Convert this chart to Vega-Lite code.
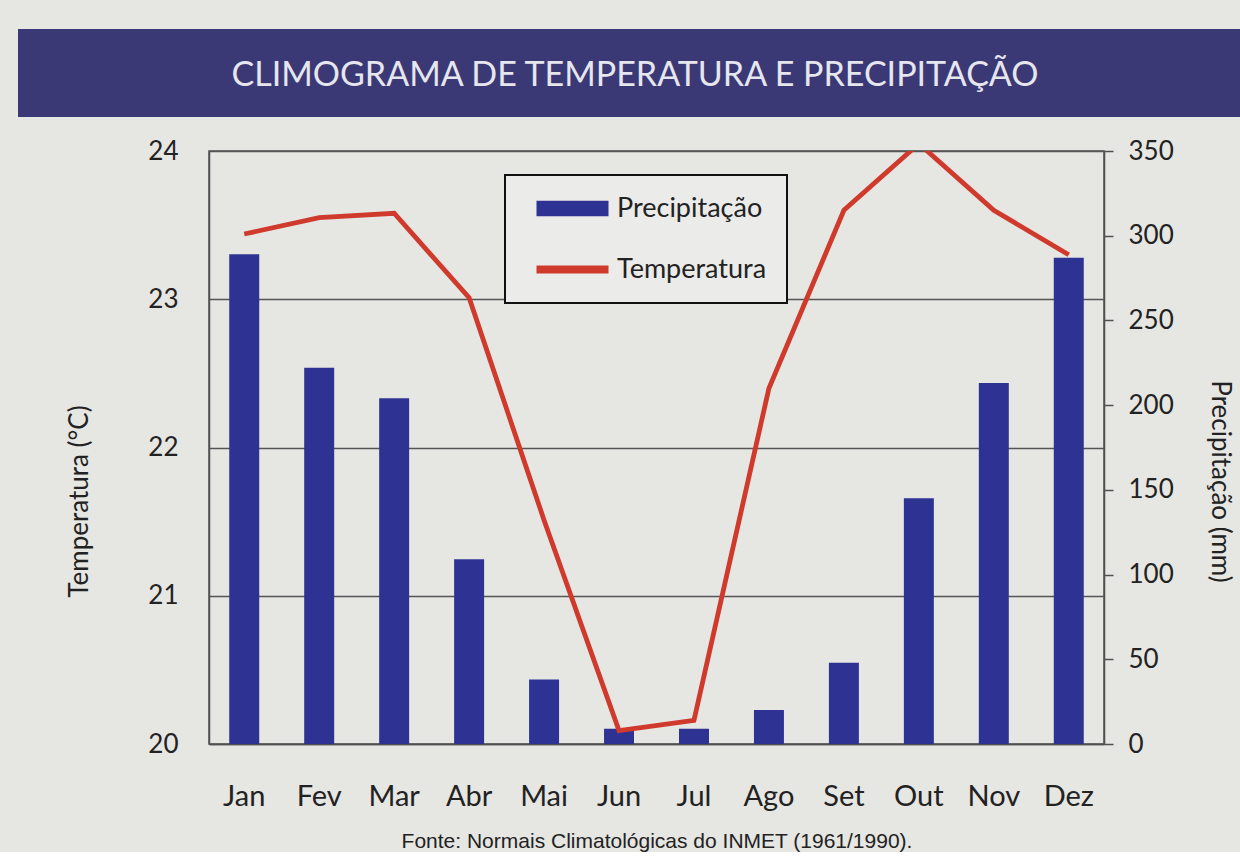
{
  "$schema": "https://vega.github.io/schema/vega-lite/v6.json",
  "background": "#e6e6e3",
  "padding": {"left": 18, "top": 29, "right": 0, "bottom": 0},
  "spacing": 20,
  "center": true,
  "config": {"font": "Lato", "view": {"stroke": null}},
  "datasets": {
    "titulo": [{"t": "CLIMOGRAMA DE TEMPERATURA E PRECIPITAÇÃO"}],
    "clima": [
      {"mes": "Jan", "precip": 289, "temp": 23.44},
      {"mes": "Fev", "precip": 222, "temp": 23.55},
      {"mes": "Mar", "precip": 204, "temp": 23.58},
      {"mes": "Abr", "precip": 109, "temp": 23.01},
      {"mes": "Mai", "precip": 38, "temp": 21.51},
      {"mes": "Jun", "precip": 9, "temp": 20.09},
      {"mes": "Jul", "precip": 9, "temp": 20.16},
      {"mes": "Ago", "precip": 20, "temp": 22.4},
      {"mes": "Set", "precip": 48, "temp": 23.6},
      {"mes": "Out", "precip": 145, "temp": 24.05},
      {"mes": "Nov", "precip": 213, "temp": 23.6},
      {"mes": "Dez", "precip": 287, "temp": 23.3}
    ]
  },
  "vconcat": [
    {
      "width": 1406,
      "height": 88,
      "view": {"fill": "#3b3876", "stroke": null},
      "data": {"name": "titulo"},
      "mark": {"type": "text", "font": "Lato", "fontSize": 34, "color": "#e6e6ee", "align": "center", "baseline": "middle", "dx": -86, "dy": 3},
      "encoding": {"text": {"field": "t", "type": "nominal"}}
    },
    {
      "width": 895,
      "height": 593,
      "view": {"stroke": "#505050", "strokeWidth": 1.5},
      "data": {"name": "clima"},
      "encoding": {
        "x": {
          "field": "mes",
          "type": "ordinal",
          "sort": null,
          "scale": {"paddingInner": 0.6, "paddingOuter": 0.27},
          "axis": {
            "title": "Fonte: Normais Climatológicas do INMET (1961/1990).",
            "titleFont": "Liberation Sans",
            "titleFontSize": 21,
            "titleFontWeight": "normal",
            "titleColor": "#222222",
            "titlePadding": 19,
            "labelFont": "Lato",
            "labelFontSize": 29,
            "labelColor": "#222222",
            "labelAngle": 0,
            "labelPadding": 38,
            "ticks": false,
            "domainColor": "#505050",
            "domainWidth": 1.5,
            "grid": false
          }
        }
      },
      "layer": [
        {
          "mark": {"type": "bar"},
          "encoding": {
            "y": {
              "field": "precip",
              "type": "quantitative",
              "scale": {"domain": [0, 350]},
              "axis": {
                "orient": "right",
                "title": "Precipitação (mm)",
                "titleFont": "Lato",
                "titleFontSize": 26,
                "titleFontWeight": "normal",
                "titleColor": "#222222",
                "titlePadding": 33,
                "titleY": 330,
                "values": [0, 50, 100, 150, 200, 250, 300, 350],
                "labelFont": "Lato",
                "labelFontSize": 26,
                "labelColor": "#222222",
                "labelPadding": 15,
                "tickSize": 9,
                "tickWidth": 1.5,
                "tickColor": "#505050",
                "domainColor": "#505050",
                "domainWidth": 1.5,
                "grid": false
              }
            },
            "color": {
              "datum": "Precipitação",
              "type": "nominal",
              "scale": {"domain": ["Precipitação", "Temperatura"], "range": ["#2e3393", "#cf3a2c"]},
              "legend": {
                "title": null,
                "orient": "none",
                "legendX": 487,
                "legendY": 146,
                "padding": 20,
                "fillColor": "#ebebe9",
                "strokeColor": "#111111",
                "labelFont": "Lato",
                "labelFontSize": 27,
                "labelColor": "#222222",
                "labelLimit": 400,
                "symbolType": "M-3,-0.64H3V0.64H-3Z",
                "symbolSize": 576,
                "symbolOffset": 34,
                "labelOffset": 31,
                "rowPadding": 33,
                "encode": {
                  "legend": {"update": {"strokeWidth": {"value": 2}}},
                  "symbols": {
                    "update": {
                      "shape": [
                        {"test": "datum.value === 'Temperatura'", "value": "M-3,-0.33H3V0.33H-3Z"},
                        {"value": "M-3,-0.64H3V0.64H-3Z"}
                      ],
                      "fill": [
                        {"test": "datum.value === 'Temperatura'", "value": "#cf3a2c"},
                        {"value": "#2e3393"}
                      ],
                      "stroke": {"value": "transparent"},
                      "strokeWidth": {"value": 0},
                      "opacity": {"value": 1},
                      "fillOpacity": {"value": 1}
                    }
                  }
                }
              }
            }
          }
        },
        {
          "mark": {"type": "line", "strokeWidth": 4.8, "clip": true},
          "encoding": {
            "y": {
              "field": "temp",
              "type": "quantitative",
              "scale": {"domain": [20, 24]},
              "axis": {
                "orient": "left",
                "title": "Temperatura (°C)",
                "titleFont": "Lato",
                "titleFontSize": 26,
                "titleFontWeight": "normal",
                "titleColor": "#222222",
                "titlePadding": 55,
                "titleY": 350,
                "values": [20, 21, 22, 23, 24],
                "format": "d",
                "labelFont": "Lato",
                "labelFontSize": 26,
                "labelColor": "#222222",
                "labelPadding": 31,
                "ticks": false,
                "domainColor": "#505050",
                "domainWidth": 1.5,
                "grid": true,
                "gridColor": "#555555",
                "gridWidth": 1.5
              }
            },
            "color": {"datum": "Temperatura", "type": "nominal"}
          }
        }
      ],
      "resolve": {"scale": {"y": "independent"}}
    }
  ]
}
